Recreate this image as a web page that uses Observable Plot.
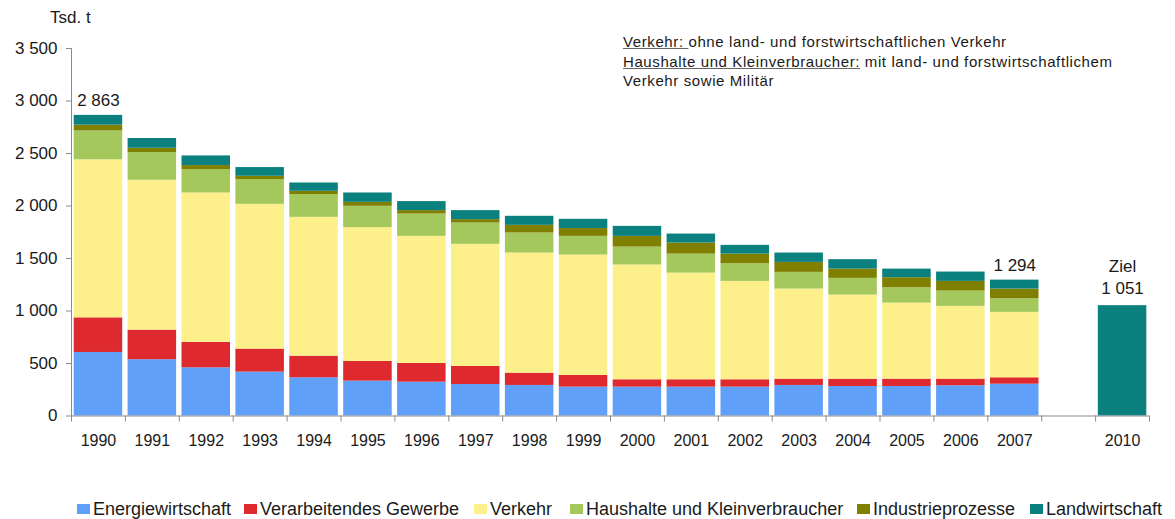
<!DOCTYPE html>
<html><head><meta charset="utf-8">
<script src="https://cdn.jsdelivr.net/npm/d3@7"></script>
<script src="https://cdn.jsdelivr.net/npm/@observablehq/plot@0.6"></script>
<style>
body{margin:0;background:#fff;font-family:"Liberation Sans",Arial,sans-serif;color:#1a1a1a}
#wrap{position:relative;width:1175px;height:519px;overflow:hidden;background:#fff}
#unit{position:absolute;left:50px;top:8px;font-size:17px;line-height:20px;white-space:nowrap}
#note{position:absolute;left:623px;top:32px;font-size:15px;line-height:19.5px;letter-spacing:0.6px;white-space:nowrap}
#note u{text-decoration-color:#666}
.lg{position:absolute;top:499px;height:20px;line-height:20px;font-size:18px;white-space:nowrap;display:flex;align-items:center}
.sw{display:inline-block;width:13px;height:10px;margin-right:3px}
</style></head><body>
<div id="wrap">
<div id="chart"></div>
<div id="unit"></div>
<div id="note"><u>Verkehr:&nbsp;</u>ohne land- und forstwirtschaftlichen Verkehr<br><u>Haushalte und Kleinverbraucher:</u> mit land- und forstwirtschaftlichem<br>Verkehr sowie Militär</div>
</div>
<script>
// ---- data ----
const years = ["1990","1991","1992","1993","1994","1995","1996","1997","1998","1999","2000","2001","2002","2003","2004","2005","2006","2007"];
const gapSlot = " ";
const targetYear = "2010";
const targetValue = 1051;
const targetWord = "Ziel";
const unitLabel = "Tsd. t";
const seriesNames = ["Energiewirtschaft","Verarbeitendes Gewerbe","Verkehr","Haushalte und Kleinverbraucher","Industrieprozesse","Landwirtschaft"];
const seriesColors = ["#60a0f8","#de2a2e","#fdf08a","#a4c85c","#7f7f00","#0a817f"];
const energie   = [605,536,459,418,364,332,322,300,291,275,275,275,275,291,281,281,288,303];
const verarb    = [330,282,242,219,206,188,178,172,117,111,70,70,70,60,70,70,63,61];
const verkehr   = [1505,1427,1423,1379,1322,1274,1211,1163,1144,1147,1093,1016,937,858,801,724,693,623];
const haushalte = [275,264,223,236,217,203,213,203,191,178,171,181,169,159,159,147,146,130];
const industrie = [55,41,38,31,31,38,32,32,73,74,102,105,91,95,88,95,92,92];
const landw     = [93,93,92,83,79,89,86,86,86,88,95,86,83,89,90,82,89,85];
const yTicks = [0,500,1000,1500,2000,2500,3000,3500];
const labelYears = ["1990","2007"];

// ---- layout (styling only) ----
const legendLeft = [77,244,474,570,857,1030];

const fmt = d3.formatLocale({decimal:",", thousands:" ", grouping:[3], currency:["",""]}).format(",d");
const seriesValues = [energie, verarb, verkehr, haushalte, industrie, landw];
const rows = [];
years.forEach((yr,i)=>seriesNames.forEach((s,j)=>rows.push({year:yr, series:s, value:seriesValues[j][i]})));
const totals = new Map(years.map((yr,i)=>[yr, d3.sum(seriesValues, v=>v[i])]));
const xDomain = [...years, gapSlot, targetYear];

const W=1175, H=490, ML=71, MR=26, MT=48, MB=74.5;
const step = (W-ML-MR)/xDomain.length;
const grey = "#8a8a8a";

const chart = Plot.plot({
  width:W, height:H, marginLeft:ML, marginRight:MR, marginTop:MT, marginBottom:MB,
  style:{fontFamily:"'Liberation Sans', Arial, sans-serif", fontSize:"17px", color:"#1a1a1a", background:"white", overflow:"visible"},
  x:{type:"band", domain:xDomain, paddingInner:0.1, paddingOuter:0.05, round:false, axis:null},
  y:{domain:[0,3500], axis:null},
  color:{domain:seriesNames, range:seriesColors},
  marks:[
    Plot.barY(rows, {x:"year", y:"value", fill:"series"}),
    Plot.barY([{year:targetYear, value:targetValue}], {x:"year", y:"value", fill:seriesColors[5]}),
    Plot.ruleY([0], {stroke:grey}),
    Plot.frame({anchor:"left", stroke:grey}),
    Plot.axisY({ticks:yTicks, tickSize:5, tickPadding:9, tickFormat:fmt, stroke:grey, fill:"#1a1a1a", fontSize:17, label:null}),
    Plot.axisX({ticks:xDomain, tickSize:0, tickPadding:19, tickFormat:d=>d.trim(), fill:"#1a1a1a", fontSize:16, label:null}),
    Plot.axisX({ticks:xDomain, tickSize:6, tickFormat:()=>"", dx:-step/2, stroke:grey, label:null}),
    Plot.axisX({ticks:[targetYear], tickSize:6, tickFormat:()=>"", dx:step/2, stroke:grey, label:null}),
    Plot.text(labelYears, {x:d=>d, y:d=>totals.get(d), text:d=>fmt(totals.get(d)), dy:-9, lineAnchor:"bottom", fontSize:17, fill:"#1a1a1a"}),
    Plot.text([targetYear], {x:d=>d, y:()=>targetValue, text:()=>`${targetWord}\n${fmt(targetValue)}`, dy:-12, lineAnchor:"bottom", lineHeight:1.3, fontSize:17, fill:"#1a1a1a"})
  ]
});
document.getElementById("chart").appendChild(chart);
document.getElementById("unit").textContent = unitLabel;

const wrap = document.getElementById("wrap");
seriesNames.forEach((s,i)=>{
  const d = document.createElement("div");
  d.className = "lg";
  d.style.left = legendLeft[i] + "px";
  const sw = document.createElement("span");
  sw.className = "sw";
  sw.style.background = seriesColors[i];
  d.appendChild(sw);
  d.appendChild(document.createTextNode(s));
  wrap.appendChild(d);
});
</script>
</body></html>
